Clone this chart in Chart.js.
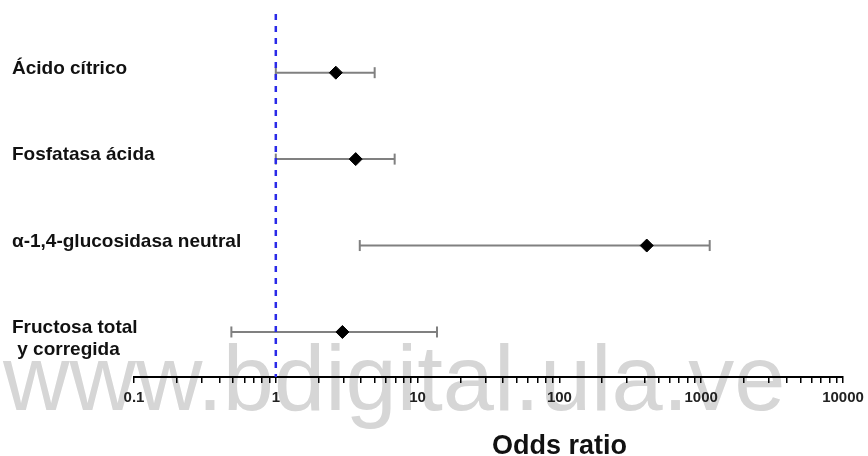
<!DOCTYPE html>
<html>
<head>
<meta charset="utf-8">
<script src="https://cdn.jsdelivr.net/npm/chart.js@4.4.1/dist/chart.umd.min.js"></script>
<style>
  html, body { margin: 0; padding: 0; background: #fff; }
  canvas { display: block; }
</style>
</head>
<body>
<canvas id="chart" width="868" height="456"></canvas>
<script>
// forest plot values
const categories = ['Ácido cítrico', 'Fosfatasa ácida', 'α-1,4-glucosidasa neutral', ['Fructosa total', ' y corregida']];
const oddsRatio = [2.65, 3.66, 413, 2.95];
const ciLower = [1.0, 1.0, 3.91, 0.486];
const ciUpper = [4.98, 6.89, 1148, 13.7];
const tickValues = [0.1, 1, 10, 100, 1000, 10000];
const tickLabels = ['0.1', '1', '10', '100', '1000', '10000'];
const refValue = 1;
const yMin = 0.321;
const yMax = 4.521;

const rows = categories.map((c, i) => i + 1);

const barDatasets = rows.map((y, i) => ({
  type: 'line',
  data: [{ x: ciLower[i], y }, { x: ciUpper[i], y }],
  borderColor: '#808080',
  borderWidth: 2,
  pointStyle: 'line',
  rotation: 90,
  pointRadius: 5.5,
  pointBorderWidth: 2,
  pointBorderColor: '#808080',
  order: 3,
}));

const watermark = {
  id: 'watermark',
  beforeDraw(chart) {
    const ctx = chart.ctx;
    ctx.save();
    ctx.font = '92px "Liberation Sans", Arial, sans-serif';
    ctx.fillStyle = '#d6d6d6';
    ctx.textBaseline = 'alphabetic';
    ctx.fillText('www.bdigital.ula.ve', 3, 410);
    ctx.restore();
  },
};

const axisTitle = {
  id: 'axisTitle',
  afterDraw(chart) {
    const ctx = chart.ctx;
    const x = chart.scales.x.getPixelForValue(100);
    ctx.save();
    ctx.font = 'bold 27px "Liberation Sans", Arial, sans-serif';
    ctx.fillStyle = '#111';
    ctx.textAlign = 'center';
    ctx.textBaseline = 'alphabetic';
    ctx.fillText('Odds ratio', x, 454);
    ctx.restore();
  },
};

new Chart(document.getElementById('chart'), {
  data: {
    datasets: [
      {
        type: 'scatter',
        data: rows.map((y, i) => ({ x: oddsRatio[i], y })),
        pointStyle: 'rectRot',
        pointRadius: 6.5,
        backgroundColor: '#000',
        borderColor: '#000',
        borderWidth: 1,
        order: 1,
      },
      {
        type: 'line',
        data: [{ x: refValue, y: yMin }, { x: refValue, y: yMax }],
        borderColor: '#2a2ae8',
        borderWidth: 2.5,
        borderDash: [6, 6],
        pointRadius: 0,
        clip: false,
        order: 2,
      },
      ...barDatasets,
    ],
  },
  plugins: [watermark, axisTitle],
  options: {
    responsive: false,
    animation: false,
    layout: { padding: { left: 12, right: 25, top: 14, bottom: 0 } },
    plugins: {
      legend: { display: false },
      tooltip: { enabled: false },
    },
    scales: {
      x: {
        type: 'logarithmic',
        position: 'bottom',
        min: 0.1,
        max: 10000,
        afterBuildTicks(scale) {
          const ticks = [];
          for (let e = -1; e < 4; e++) {
            for (let s = 1; s < 10; s++) ticks.push({ value: s * Math.pow(10, e) });
          }
          ticks.push({ value: 10000 });
          scale.ticks = ticks;
        },
        afterFit(scale) {
          scale.height = 79;
          scale.paddingLeft = 0;
          scale.paddingRight = 0;
        },
        grid: {
          display: true,
          drawOnChartArea: false,
          drawTicks: true,
          tickLength: 6,
          color: '#000',
          lineWidth: 1.5,
        },
        border: { display: true, color: '#000', width: 2 },
        ticks: {
          autoSkip: false,
          maxRotation: 0,
          padding: 6,
          color: '#222',
          font: { family: '"Liberation Sans", Arial, sans-serif', size: 15, weight: 'bold' },
          callback(value) {
            const k = tickValues.findIndex(t => Math.abs(Math.log10(t) - Math.log10(value)) < 1e-9);
            return k >= 0 ? tickLabels[k] : '';
          },
        },
      },
      y: {
        type: 'linear',
        reverse: true,
        min: yMin,
        max: yMax,
        afterBuildTicks(scale) {
          scale.ticks = rows.map(v => ({ value: v }));
        },
        afterFit(scale) {
          scale.width = 122;
          scale.paddingTop = 0;
          scale.paddingBottom = 0;
        },
        grid: { display: false },
        border: { display: false },
        ticks: {
          mirror: true,
          padding: -122,
          crossAlign: 'near',
          labelOffset: 7,
          color: '#111',
          font: { family: '"Liberation Sans", Arial, sans-serif', size: 19, weight: 'bold', lineHeight: 1.16 },
          callback(value) {
            const c = categories[Math.round(value) - 1];
            return Array.isArray(c) ? c : [c, ''];
          },
        },
      },
    },
  },
});
</script>
</body>
</html>
